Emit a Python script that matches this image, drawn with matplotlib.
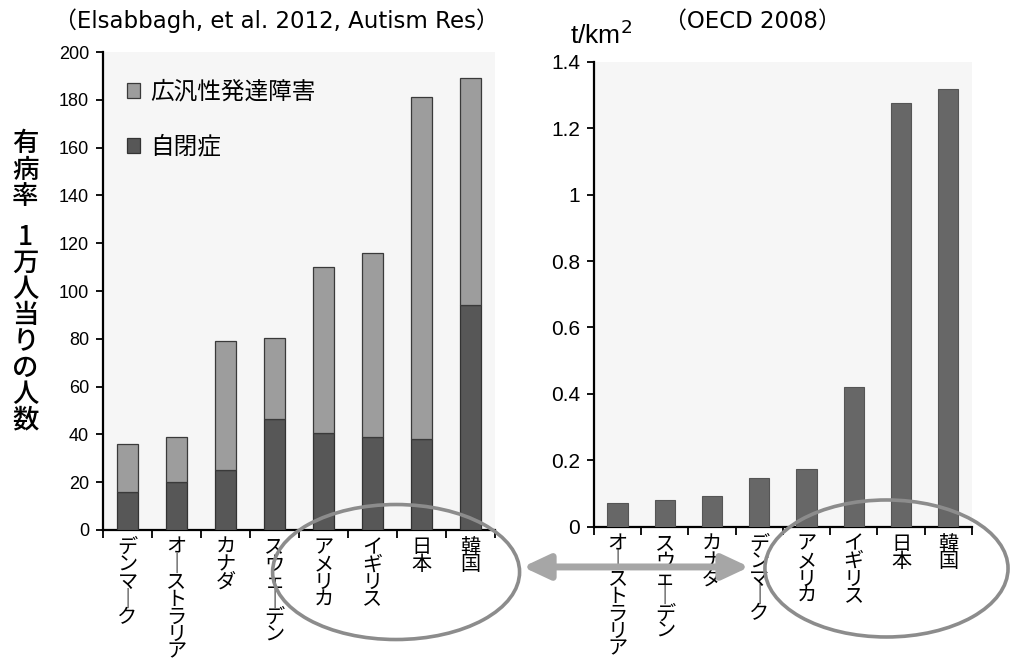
import matplotlib
matplotlib.use("Agg")
import matplotlib.pyplot as plt
from matplotlib.patches import Ellipse, FancyArrowPatch
import matplotlib.font_manager as fm

JP = ["Noto Sans CJK JP", "DejaVu Sans"]
LAT = ["Liberation Sans", "Noto Sans CJK JP", "DejaVu Sans"]
WIDE = ["DejaVu Sans", "Noto Sans CJK JP"]
plt.rcParams["font.family"] = LAT

# Prevalence per 10,000 people (Elsabbagh et al. 2012)
prev_countries = ["デンマーク", "オーストラリア", "カナダ", "スウェーデン",
                  "アメリカ", "イギリス", "日本", "韓国"]
autism = [16, 20, 25, 46.5, 40.5, 39, 38, 94]
pdd_extra = [20, 19, 54, 34, 69.5, 77, 143, 95]
prev_ticks = [0, 20, 40, 60, 80, 100, 120, 140, 160, 180, 200]

# Pesticide use per km2 (OECD 2008)
pest_countries = ["オーストラリア", "スウェーデン", "カナダ", "デンマーク",
                  "アメリカ", "イギリス", "日本", "韓国"]
pesticide = [0.072, 0.080, 0.092, 0.147, 0.174, 0.422, 1.275, 1.317]
pest_ticks = [0, 0.2, 0.4, 0.6, 0.8, 1.0, 1.2, 1.4]
pest_ticklabels = ["0", "0.2", "0.4", "0.6", "0.8", "1", "1.2", "1.4"]


def vertical(s):
    # stack characters top to bottom; the long vowel mark becomes a vertical bar
    return "\n".join("｜" if ch == "ー" else ch for ch in s)


fig = plt.figure(figsize=(10.13, 6.67), dpi=100)
fig.patch.set_facecolor("white")

ax1 = fig.add_axes([0.1017, 0.2054, 0.387, 0.7166])
ax2 = fig.add_axes([0.5864, 0.2103, 0.373, 0.697])

for ax in (ax1, ax2):
    ax.set_facecolor("#f6f6f6")
    for s in ("top", "right"):
        ax.spines[s].set_visible(False)
    for s in ("left", "bottom"):
        ax.spines[s].set_linewidth(1.6)
        ax.spines[s].set_color("black")
    ax.set_xlim(-0.5, 7.5)
    ax.set_xticks(range(8))
    ax.set_xticks([i - 0.5 for i in range(9)], minor=True)
    ax.tick_params(axis="x", which="major", length=0, pad=5)
    ax.tick_params(axis="x", which="minor", length=6, width=1.3, direction="out")
    ax.tick_params(axis="y", length=5, width=1.3, direction="out", pad=5)

x = range(len(prev_countries))
w = 0.43
b_aut = ax1.bar(x, autism, width=w, color="#575757", edgecolor="#333333",
                linewidth=0.9, label="自閉症", zorder=3)
b_pdd = ax1.bar(x, pdd_extra, width=w, bottom=autism, color="#9d9d9d",
                edgecolor="#3a3a3a", linewidth=0.9, label="広汎性発達障害", zorder=3)
ax1.set_ylim(0, 200)
ax1.set_yticks(prev_ticks)
ax1.set_yticklabels([str(t) for t in prev_ticks], fontsize=13, family=LAT)
ax1.set_xticklabels([vertical(c) for c in prev_countries], fontsize=14.5,
                    family=JP, va="top", linespacing=0.78)

ax1.legend([b_pdd, b_aut], ["広汎性発達障害", "自閉症"], loc="upper left",
           bbox_to_anchor=(0.008, 0.984), frameon=False,
           prop=fm.FontProperties(family=JP, size=17),
           handlelength=0.55, handleheight=0.55, handletextpad=0.4,
           labelspacing=1.35)

ax2.bar(range(len(pest_countries)), pesticide, width=0.43, color="#676767",
        edgecolor="#555555", linewidth=0.8, zorder=3)
ax2.set_ylim(0, 1.4)
ax2.set_yticks(pest_ticks)
ax2.set_yticklabels(pest_ticklabels, fontsize=15, family=LAT)
ax2.set_xticklabels([vertical(c) for c in pest_countries], fontsize=14.5,
                    family=JP, va="top", linespacing=0.78)

# Titles and axis captions
fig.text(0.2725, 0.9685, "（Elsabbagh, et al. 2012, Autism Res）", ha="center",
         va="center", fontsize=16.5, family=WIDE)
fig.text(0.743, 0.9685, "（OECD 2008）", ha="center", va="center",
         fontsize=16.5, family=WIDE)
fig.text(0.593, 0.9475, "t/km$^2$", ha="center", va="center", fontsize=19,
         family=LAT)
fig.text(0.025, 0.745, "有\n病\n率", ha="center", va="center", fontsize=19,
         family=JP, weight="medium", linespacing=0.96)
fig.text(0.025, 0.507, "1\n万\n人\n当\nり\nの\n人\n数", ha="center",
         va="center", fontsize=19, family=JP, weight="medium", linespacing=0.96)

# Highlight rings and the linking double arrow
ring_kw = dict(fill=False, edgecolor="#8c8c8c", linewidth=2.6,
               transform=fig.transFigure, zorder=10)
fig.add_artist(Ellipse((0.391, 0.1424), 0.2438, 0.2024, **ring_kw))
fig.add_artist(Ellipse((0.8751, 0.1477), 0.240, 0.2054, **ring_kw))
arrow = FancyArrowPatch((0.5133, 0.150), (0.7424, 0.150),
                        arrowstyle="<|-|>,head_length=1.6,head_width=0.75",
                        color="#a6a6a6", linewidth=5, mutation_scale=10,
                        transform=fig.transFigure, zorder=11)
fig.add_artist(arrow)

fig.savefig("out.png", dpi=100, facecolor="white")
